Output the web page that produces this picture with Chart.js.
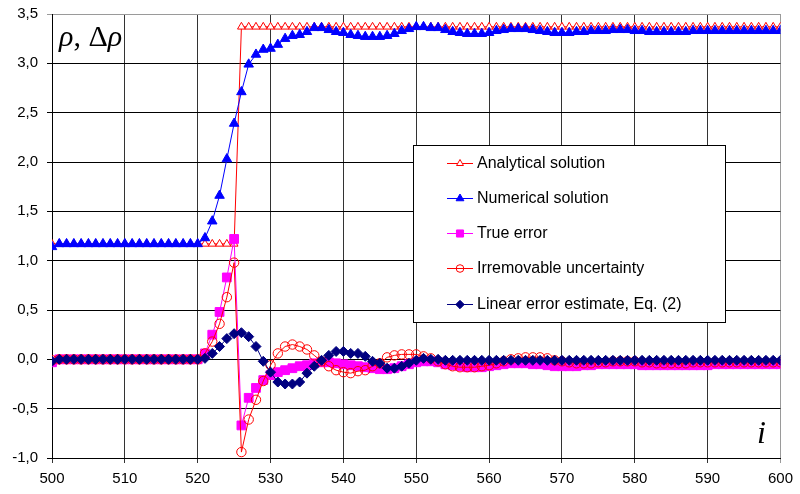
<!DOCTYPE html>
<html>
<head>
<meta charset="utf-8">
<script src="https://cdn.jsdelivr.net/npm/chart.js@4/dist/chart.umd.min.js"></script>
<style>
  html, body { margin: 0; padding: 0; background: #fff; }
  #c { display: block; }
</style>
</head>
<body>
<canvas id="c" width="800" height="494"></canvas>
<script>
// ---- data ----
const indices = [
  500,501,502,503,504,505,506,507,508,509,
  510,511,512,513,514,515,516,517,518,519,
  520,521,522,523,524,525,526,527,528,529,
  530,531,532,533,534,535,536,537,538,539,
  540,541,542,543,544,545,546,547,548,549,
  550,551,552,553,554,555,556,557,558,559,
  560,561,562,563,564,565,566,567,568,569,
  570,571,572,573,574,575,576,577,578,579,
  580,581,582,583,584,585,586,587,588,589,
  590,591,592,593,594,595,596,597,598,599,
  600
];
const analytical = [
  1.17,1.17,1.17,1.17,1.17,1.17,1.17,1.17,1.17,1.17,
  1.17,1.17,1.17,1.17,1.17,1.17,1.17,1.17,1.17,1.17,
  1.17,1.17,1.17,1.17,1.17,1.17,3.37,3.37,3.37,3.37,
  3.37,3.37,3.37,3.37,3.37,3.37,3.37,3.37,3.37,3.37,
  3.37,3.37,3.37,3.37,3.37,3.37,3.37,3.37,3.37,3.37,
  3.37,3.37,3.37,3.37,3.37,3.37,3.37,3.37,3.37,3.37,
  3.37,3.37,3.37,3.37,3.37,3.37,3.37,3.37,3.37,3.37,
  3.37,3.37,3.37,3.37,3.37,3.37,3.37,3.37,3.37,3.37,
  3.37,3.37,3.37,3.37,3.37,3.37,3.37,3.37,3.37,3.37,
  3.37,3.37,3.37,3.37,3.37,3.37,3.37,3.37,3.37,3.37,
  3.37
];
const numerical = [
  1.14,1.17,1.17,1.17,1.17,1.17,1.17,1.17,1.17,1.17,
  1.17,1.17,1.17,1.17,1.17,1.17,1.17,1.17,1.17,1.17,
  1.17,1.23,1.40,1.66,2.03,2.39,2.71,2.99,3.09,3.14,
  3.15,3.19,3.25,3.28,3.29,3.32,3.36,3.36,3.34,3.32,
  3.31,3.29,3.28,3.27,3.27,3.27,3.28,3.30,3.33,3.35,
  3.37,3.37,3.36,3.36,3.34,3.32,3.31,3.30,3.30,3.30,
  3.31,3.33,3.34,3.35,3.35,3.35,3.34,3.33,3.32,3.31,
  3.31,3.31,3.32,3.32,3.33,3.33,3.33,3.34,3.34,3.34,
  3.33,3.33,3.32,3.32,3.32,3.32,3.32,3.32,3.33,3.33,
  3.33,3.33,3.33,3.33,3.33,3.33,3.33,3.33,3.33,3.33,
  3.33
];
const trueError = [
  -0.03,0,0,0,0,0,0,0,0,0,
  0,0,0,0,0,0,0,0,0,0,
  0,0.06,0.25,0.48,0.83,1.22,-0.67,-0.39,-0.29,-0.21,
  -0.16,-0.13,-0.11,-0.09,-0.07,-0.06,-0.04,-0.03,-0.03,-0.04,
  -0.05,-0.06,-0.07,-0.08,-0.09,-0.10,-0.10,-0.09,-0.07,-0.05,
  -0.03,-0.02,-0.02,-0.03,-0.05,-0.06,-0.07,-0.08,-0.08,-0.08,
  -0.07,-0.06,-0.05,-0.04,-0.04,-0.04,-0.05,-0.05,-0.06,-0.07,
  -0.07,-0.07,-0.07,-0.06,-0.06,-0.05,-0.05,-0.05,-0.05,-0.05,
  -0.05,-0.06,-0.06,-0.06,-0.06,-0.06,-0.06,-0.06,-0.06,-0.06,
  -0.06,-0.05,-0.05,-0.05,-0.05,-0.05,-0.05,-0.05,-0.05,-0.05,
  -0.05
];
const irremovable = [
  -0.01,0,0,0,0,0,0,0,0,0,
  0,0,0,0,0,0,0,0,0,0,
  0,0.06,0.18,0.36,0.63,0.98,-0.94,-0.61,-0.41,-0.22,
  -0.06,0.06,0.13,0.15,0.13,0.10,0.04,-0.02,-0.07,-0.11,
  -0.13,-0.14,-0.12,-0.11,-0.07,-0.04,0.02,0.04,0.05,0.05,
  0.05,0.03,0.01,-0.02,-0.05,-0.07,-0.08,-0.08,-0.08,-0.07,
  -0.06,-0.04,-0.02,0.00,0.01,0.02,0.02,0.02,0.01,-0.01,
  -0.02,-0.03,-0.04,-0.04,-0.04,-0.03,-0.03,-0.02,-0.02,-0.02,
  -0.02,-0.03,-0.03,-0.04,-0.04,-0.04,-0.04,-0.04,-0.03,-0.03,
  -0.03,-0.03,-0.03,-0.03,-0.03,-0.03,-0.03,-0.03,-0.03,-0.03,
  -0.03
];
const linearEstimate = [
  -0.02,0,0,0,0,0,0,0,0,0,
  0,0,0,0,0,0,0,0,0,0,
  0,0.01,0.06,0.13,0.21,0.26,0.27,0.23,0.13,-0.02,
  -0.13,-0.23,-0.25,-0.25,-0.23,-0.14,-0.07,-0.01,0.04,0.08,
  0.08,0.06,0.06,0.03,-0.02,-0.04,-0.09,-0.09,-0.07,-0.04,
  -0.01,0.01,0.00,0.00,-0.01,-0.01,-0.01,-0.01,-0.01,-0.01,
  -0.01,-0.01,-0.01,-0.01,-0.01,-0.01,-0.01,-0.01,-0.01,-0.01,
  -0.01,-0.01,-0.01,-0.01,-0.01,-0.01,-0.01,-0.01,-0.01,-0.01,
  -0.01,-0.01,-0.01,-0.01,-0.01,-0.01,-0.01,-0.01,-0.01,-0.01,
  -0.01,-0.01,-0.01,-0.01,-0.01,-0.01,-0.01,-0.01,-0.01,-0.01,
  -0.01
];
const seriesNames = [
  'Analytical solution',
  'Numerical solution',
  'True error',
  'Irremovable uncertainty',
  'Linear error estimate, Eq. (2)'
];
const yTickValues = [-1.0, -0.5, 0.0, 0.5, 1.0, 1.5, 2.0, 2.5, 3.0, 3.5];
const xTickValues = [500, 510, 520, 530, 540, 550, 560, 570, 580, 590, 600];

// ---- styles ----
const styles = [
  { color: '#FF0000', fill: '#FFFFFF', shape: 'triangle', r: 4.5, lr: 4 },
  { color: '#0000FF', fill: '#0000FF', shape: 'triangle', r: 5.5, lr: 4.5 },
  { color: '#FF00FF', fill: '#FF00FF', shape: 'rect', r: 6.2, lr: 5 },
  { color: '#FF0000', fill: 'rgba(255,255,255,0)', shape: 'circle', r: 4.7, lr: 3.8 },
  { color: '#000080', fill: '#000080', shape: 'rectRot', r: 5, lr: 4.2 }
];
const values = [analytical, numerical, trueError, irremovable, linearEstimate];

const datasets = values.map((arr, k) => ({
  label: seriesNames[k],
  data: arr.map((v, j) => ({ x: indices[j], y: v })),
  borderColor: styles[k].color,
  backgroundColor: styles[k].fill,
  borderWidth: 1,
  pointStyle: styles[k].shape,
  pointRadius: styles[k].r,
  pointBorderColor: styles[k].color,
  pointBackgroundColor: styles[k].fill,
  pointBorderWidth: 1,
  tension: 0,
  order: 5 - k
}));

function drawMarker(ctx, shape, x, y, r, stroke, fill) {
  ctx.save();
  ctx.strokeStyle = stroke; ctx.fillStyle = fill; ctx.lineWidth = 1;
  if (Chart.helpers && Chart.helpers.drawPoint) {
    Chart.helpers.drawPoint(ctx, { pointStyle: shape, radius: r, rotation: 0, borderWidth: 1 }, x, y);
  } else {
    ctx.beginPath(); ctx.arc(x, y, r, 0, Math.PI * 2); ctx.fill(); ctx.stroke();
  }
  ctx.restore();
}

const overlayPlugin = {
  id: 'overlay',
  afterDraw(chart) {
    const ctx = chart.ctx;
    // legend box
    const bx = 413.5, by = 145.5, bw = 312, bh = 177;
    ctx.save();
    ctx.fillStyle = '#FFFFFF';
    ctx.fillRect(bx, by, bw, bh);
    ctx.strokeStyle = '#000000'; ctx.lineWidth = 1;
    ctx.strokeRect(bx, by, bw, bh);
    ctx.font = '16px "Liberation Sans", Arial, sans-serif';
    ctx.textBaseline = 'middle';
    ctx.textAlign = 'left';
    const rowY = [163, 198, 233, 268, 304];
    for (let k = 0; k < 5; k++) {
      const y = rowY[k] + 0.5;
      ctx.strokeStyle = styles[k].color; ctx.lineWidth = 1;
      ctx.beginPath(); ctx.moveTo(447, y); ctx.lineTo(473, y); ctx.stroke();
      drawMarker(ctx, styles[k].shape, 460, y, styles[k].lr, styles[k].color, styles[k].fill);
      ctx.fillStyle = '#000000';
      ctx.fillText(seriesNames[k], 477, rowY[k] + 1);
    }
    // axis titles
    ctx.fillStyle = '#000000';
    ctx.textBaseline = 'alphabetic';
    let x = 59;
    const base = 46;
    const parts = [
      ['italic 30px "Liberation Serif", "Times New Roman", serif', 'ρ'],
      ['30px "Liberation Serif", "Times New Roman", serif', ', '],
      ['30px "Liberation Serif", "Times New Roman", serif', 'Δ'],
      ['italic 30px "Liberation Serif", "Times New Roman", serif', 'ρ']
    ];
    for (const [f, t] of parts) {
      ctx.font = f;
      ctx.fillText(t, x, base);
      x += ctx.measureText(t).width;
    }
    ctx.font = 'italic 32px "Liberation Serif", "Times New Roman", serif';
    ctx.fillText('i', 757, 443);
    ctx.restore();
  }
};

const xTickFont = { family: '"Liberation Sans", Arial, sans-serif', size: 15 };
const yTickFont = { family: '"Liberation Sans", Arial, sans-serif', size: 15, lineHeight: 0.6 };

new Chart(document.getElementById('c'), {
  type: 'line',
  data: { datasets },
  plugins: [overlayPlugin],
  options: {
    responsive: false,
    animation: false,
    events: [],
    layout: { padding: { top: 14, right: 14, left: 0, bottom: 0 } },
    plugins: { legend: { display: false }, tooltip: { enabled: false } },
    scales: {
      x: {
        type: 'linear',
        min: xTickValues[0],
        max: xTickValues[xTickValues.length - 1],
        afterBuildTicks(scale) { scale.ticks = xTickValues.map(v => ({ value: v })); },
        ticks: { color: '#000', font: xTickFont, padding: 7, maxRotation: 0, autoSkip: false },
        grid: {
          color: (c) => (c.tick && c.tick.value === 600 ? '#9a9a9a' : '#333333'),
          lineWidth: 1, tickLength: 5
        },
        border: { color: '#000000', width: 1 },
        afterFit(scale) { scale.height = 36; }
      },
      y: {
        min: yTickValues[0],
        max: yTickValues[yTickValues.length - 1],
        afterBuildTicks(scale) { scale.ticks = yTickValues.map(v => ({ value: v })); },
        ticks: {
          color: '#000', font: yTickFont, padding: 9, autoSkip: false,
          callback: (v) => v.toFixed(1).replace('.', ',')
        },
        grid: {
          color: (c) => (c.tick && c.tick.value === 3.5 ? '#9a9a9a' : '#000000'),
          lineWidth: 1, tickLength: 5
        },
        border: { color: '#000000', width: 1 },
        afterFit(scale) { scale.width = 52; }
      }
    }
  }
});
</script>
</body>
</html>
